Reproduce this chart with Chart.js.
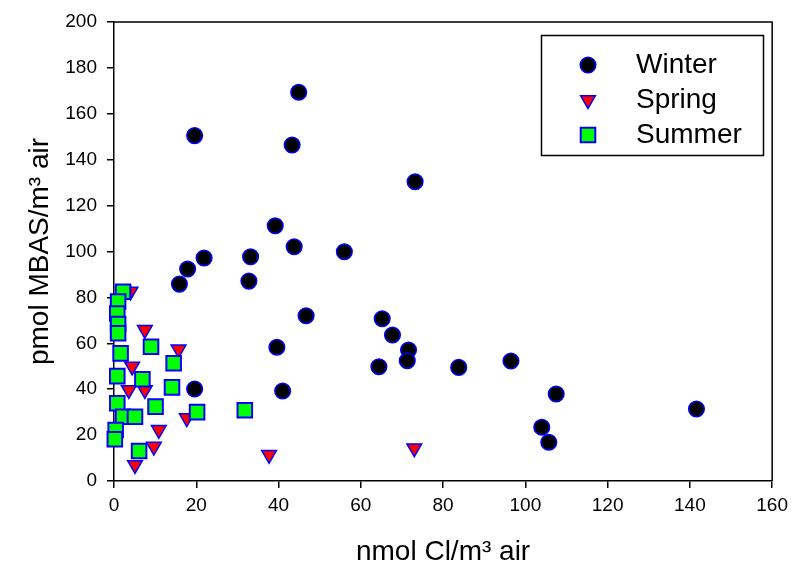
<!DOCTYPE html>
<html>
<head>
<meta charset="utf-8">
<script src="https://cdn.jsdelivr.net/npm/chart.js@4"></script>
<style>
  html, body { margin: 0; background: #fff; }
  canvas { display: block; }
</style>
</head>
<body>
<canvas id="chart" width="794" height="573" style="width:794px;height:573px"></canvas>
<script>
// values
const winterX = [19.6, 44.9, 43.3, 73.2, 39.2, 43.8, 56.0, 33.2, 21.9, 17.9, 15.9, 32.8, 46.7, 65.2, 67.7, 39.6, 71.6, 71.3, 64.4, 83.8, 96.5, 19.6, 41.0, 107.5, 141.6, 104.0, 105.7];
const winterY = [150.5, 169.4, 146.4, 130.4, 111.2, 102.1, 99.9, 97.7, 97.2, 92.4, 85.8, 87.1, 72.0, 70.7, 63.6, 58.3, 57.1, 52.4, 49.8, 49.5, 52.3, 40.1, 39.2, 37.9, 31.4, 23.4, 16.9];

const springX = [4.0, 7.5, 15.7, 4.4, 3.6, 7.5, 17.7, 10.9, 9.7, 5.1, 37.7, 73.0];
const springY = [82.6, 65.9, 57.4, 49.9, 39.7, 39.7, 27.4, 22.3, 15.0, 7.0, 11.4, 14.3];

const summerX = [2.2, 1.0, 0.8, 1.0, 1.0, 1.6, 9.0, 0.8, 6.9, 14.5, 14.1, 10.1, 20.2, 0.8, 2.2, 5.1, 0.4, 0.2, 6.1, 31.8];
const summerY = [82.5, 78.2, 73.0, 68.4, 64.4, 55.6, 58.5, 45.7, 44.3, 51.3, 40.8, 32.4, 30.0, 33.9, 28.0, 28.0, 22.2, 18.2, 13.1, 30.8];

const seasons = ['Winter', 'Spring', 'Summer'];

const toPoints = (xs, ys) => xs.map((x, i) => ({ x: x, y: ys[i] }));

const FONT = '"Liberation Sans", Arial, sans-serif';

// box round the plot and the legend box inside it
const frameAndLegend = {
  id: 'frameAndLegend',
  afterDatasetsDraw(chart) {
    const { ctx, chartArea: a } = chart;
    ctx.save();
    ctx.strokeStyle = '#000';
    ctx.lineWidth = 1.5;
    ctx.beginPath();
    ctx.moveTo(a.left, a.top);
    ctx.lineTo(a.right, a.top);
    ctx.lineTo(a.right, a.bottom);
    ctx.stroke();

    ctx.strokeRect(541.5, 35.5, 222, 120);
    chart.data.datasets.forEach((ds, i) => {
      const y = 65 + i * 35;
      ctx.fillStyle = ds.backgroundColor;
      ctx.strokeStyle = ds.borderColor;
      ctx.lineWidth = ds.borderWidth;
      Chart.helpers.drawPoint(ctx, {
        pointStyle: ds.pointStyle,
        rotation: ds.rotation || 0,
        radius: ds.pointRadius,
        borderWidth: ds.borderWidth
      }, 588, y);
      ctx.fillStyle = '#000';
      ctx.font = '28px ' + FONT;
      ctx.textBaseline = 'middle';
      ctx.fillText(ds.label, 636, y);
    });
    ctx.restore();
  }
};

new Chart(document.getElementById('chart'), {
  type: 'scatter',
  data: {
    datasets: [
      {
        label: seasons[0],
        data: toPoints(winterX, winterY),
        pointStyle: 'circle',
        pointRadius: 7.8,
        backgroundColor: '#000000',
        borderColor: '#0000ff',
        borderWidth: 1.5,
        order: 2,
        clip: false
      },
      {
        label: seasons[1],
        data: toPoints(springX, springY),
        pointStyle: 'triangle',
        rotation: 180,
        pointRotation: 180,
        pointRadius: 8.5,
        backgroundColor: '#ff0000',
        borderColor: '#0000ff',
        borderWidth: 1.5,
        order: 1,
        clip: false
      },
      {
        label: seasons[2],
        data: toPoints(summerX, summerY),
        pointStyle: 'rect',
        pointRadius: 10.3,
        backgroundColor: '#00ff00',
        borderColor: '#0000ff',
        borderWidth: 2,
        order: 0,
        clip: false
      }
    ]
  },
  options: {
    responsive: false,
    animation: false,
    layout: { padding: { top: 22, right: 21, left: 0, bottom: 0 } },
    plugins: {
      legend: { display: false },
      tooltip: { enabled: false }
    },
    scales: {
      x: {
        type: 'linear',
        min: 0,
        max: 160,
        afterFit: s => { s.height = 92; },
        ticks: { stepSize: 20, color: '#000', padding: 6, font: { family: FONT, size: 19 } },
        grid: { drawOnChartArea: false, drawTicks: true, tickLength: 7, color: '#000', lineWidth: 1.5 },
        border: { display: true, color: '#000', width: 1.5 },
        title: {
          display: true,
          text: 'nmol Cl/m³ air',
          color: '#000',
          font: { family: FONT, size: 28 },
          padding: { top: 0, bottom: 4 }
        }
      },
      y: {
        type: 'linear',
        min: 0,
        max: 200,
        afterFit: s => { s.width = 114; },
        ticks: { stepSize: 20, color: '#000', padding: 10, font: { family: FONT, size: 19 } },
        grid: { drawOnChartArea: false, drawTicks: true, tickLength: 7, color: '#000', lineWidth: 1.5 },
        border: { display: true, color: '#000', width: 1.5 },
        title: {
          display: true,
          text: 'pmol MBAS/m³ air',
          color: '#000',
          font: { family: FONT, size: 28 },
          padding: { top: 23, bottom: 0 }
        }
      }
    }
  },
  plugins: [frameAndLegend]
});
</script>
</body>
</html>
